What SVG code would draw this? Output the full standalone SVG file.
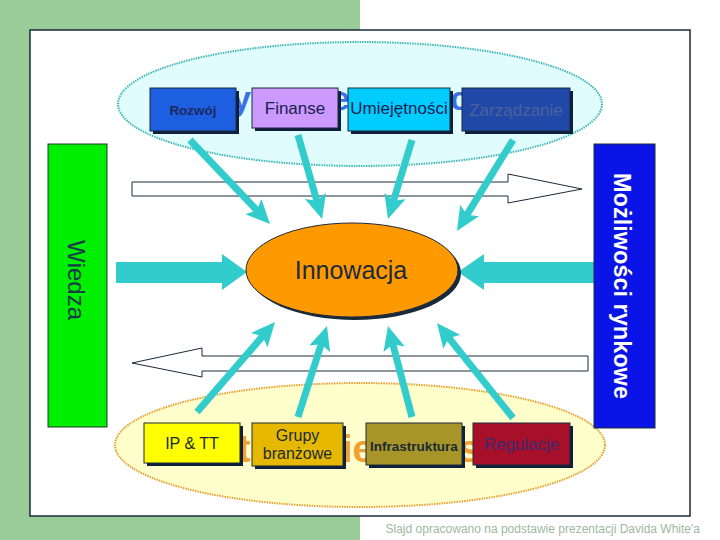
<svg xmlns="http://www.w3.org/2000/svg" width="720" height="540" viewBox="0 0 720 540">
<defs>
<style>
text{font-family:"Liberation Sans",Arial,sans-serif}
.box{stroke:#1a2a3a;stroke-width:1}
.sh{fill:#0d1f3c}
.lbl{text-anchor:middle}
.teal{stroke:#33cccc;stroke-width:7;fill:none;marker-end:url(#ah)}
.blk{fill:#ffffff;stroke:#1a2a3a;stroke-width:1}
.frag1{font-size:34px;font-weight:bold;fill:#3c6ee6}
.frag2{font-size:38px;font-weight:bold;fill:#f0a030}
</style>
<marker id="ah" markerUnits="userSpaceOnUse" markerWidth="26" markerHeight="22" viewBox="0 0 26 22" refX="6" refY="11" orient="auto">
<path d="M0,0 L24,11 L0,22 L5,11 Z" fill="#33cccc"/>
</marker>
</defs>
<rect x="0" y="0" width="720" height="540" fill="#ffffff"/>
<rect x="0" y="0" width="360" height="540" fill="#99cc99"/>
<rect x="30" y="30" width="660" height="486" fill="#ffffff" stroke="#1a2a3a" stroke-width="1.5"/>

<g id="top-ellipse"><ellipse cx="360" cy="104" rx="242" ry="62" fill="#e0fcfc" stroke="#40b8b8" stroke-width="2" stroke-dasharray="1.5,1"/></g>
<g id="bottom-ellipse"><ellipse cx="360" cy="445" rx="245" ry="62" fill="#ffffcc" stroke="#e8a030" stroke-width="2" stroke-dasharray="1.5,1"/></g>

<g id="fragments">
<text class="frag1" x="232" y="110">y</text>
<text class="frag1" x="331" y="110">e</text>
<text class="frag1" x="450" y="110">c</text>
<text class="frag2" x="238" y="462">t</text>
<text class="frag2" x="342" y="462">ie</text>
<text class="frag2" x="459" y="462">s</text>
</g>

<g id="connectors">
<polygon class="blk" points="132,182 508,182 508,174 582,189 508,203 508,196 132,196"/>
<polygon class="blk" points="588,356 202,356 202,348 132,363 202,377 202,371 588,371"/>
<polygon fill="#33cccc" points="116,262 222,262 222,254 247,272 222,290 222,283 116,283"/>
<polygon fill="#33cccc" points="599,262 484,262 484,254 458,272 484,290 484,283 599,283"/>
<line class="teal" x1="190" y1="140" x2="257.6" y2="211"/>
<line class="teal" x1="298" y1="135" x2="317.1" y2="201.7"/>
<line class="teal" x1="412" y1="140" x2="393.2" y2="201.8"/>
<line class="teal" x1="513" y1="140" x2="466.4" y2="215.7"/>
<line class="teal" x1="197" y1="412" x2="263.2" y2="335.6"/>
<line class="teal" x1="298" y1="417" x2="321.5" y2="343.2"/>
<line class="teal" x1="412" y1="417" x2="392.6" y2="343.4"/>
<line class="teal" x1="513" y1="418" x2="448.2" y2="337.1"/>
</g>

<g id="wiedza">
<rect x="48" y="144" width="59" height="283" fill="#00ee00" stroke="#1a3a2a" stroke-width="1"/>
<text transform="translate(68,280) rotate(90)" x="0" y="0" text-anchor="middle" font-size="24" fill="#1a3a4a">Wiedza</text>
</g>
<g id="mozliwosci">
<rect x="594" y="144" width="61" height="284" fill="#0a14e6" stroke="#1a2a3a" stroke-width="1"/>
<text transform="translate(614,286) rotate(90)" x="0" y="0" text-anchor="middle" font-size="23.5" font-weight="bold" fill="#ffffff">Możliwości rynkowe</text>
</g>

<g id="rozwoj">
<rect class="sh" x="153" y="91" width="86" height="43"/>
<rect class="box" x="150" y="88" width="86" height="43" fill="#1e5ee0"/>
<text class="lbl" x="193" y="115" style="font-size:13.5px;font-weight:bold;fill:#1a2a60">Rozwój</text>
</g>
<g id="finanse">
<rect class="sh" x="255" y="91" width="86" height="40"/>
<rect class="box" x="252" y="88" width="86" height="40" fill="#cc99ff"/>
<text class="lbl" x="295" y="114" style="font-size:17px;fill:#1a2050">Finanse</text>
</g>
<g id="umiejetnosci">
<rect class="sh" x="351" y="91" width="102" height="43"/>
<rect class="box" x="348" y="88" width="102" height="43" fill="#00ccff"/>
<text class="lbl" x="399" y="114" style="font-size:17px;fill:#1a2050">Umiejętności</text>
</g>
<g id="zarzadzanie">
<rect class="sh" x="465" y="91" width="108" height="43"/>
<rect class="box" x="462" y="88" width="108" height="43" fill="#2048a8"/>
<text class="lbl" x="516" y="116" style="font-size:17px;fill:#50609c">Zarządzanie</text>
</g>

<g id="ip-tt">
<rect class="sh" x="147" y="426" width="96" height="40"/>
<rect class="box" x="144" y="423" width="96" height="40" fill="#ffff00"/>
<text class="lbl" x="192" y="449" style="font-size:16px;fill:#1a2a30">IP &amp; TT</text>
</g>
<g id="grupy">
<rect class="sh" x="255" y="426" width="91" height="43"/>
<rect class="box" x="252" y="423" width="91" height="43" fill="#e6b800"/>
<text class="lbl" x="297.5" y="441" style="font-size:16px;fill:#1a2a30">Grupy</text>
<text class="lbl" x="297.5" y="459" style="font-size:16px;fill:#1a2a30">branżowe</text>
</g>
<g id="infrastruktura">
<rect class="sh" x="369" y="426" width="96" height="42"/>
<rect class="box" x="366" y="423" width="96" height="42" fill="#a8952a"/>
<text class="lbl" x="414" y="451" style="font-size:13.5px;font-weight:bold;fill:#1a2a30">Infrastruktura</text>
</g>
<g id="regulacje">
<rect class="sh" x="476" y="426" width="97" height="42"/>
<rect class="box" x="473" y="423" width="97" height="42" fill="#a8102a"/>
<text class="lbl" x="521.5" y="450" style="font-size:17px;fill:#3a2a70">Regulacje</text>
</g>

<g id="innowacja">
<ellipse cx="355" cy="273" rx="106" ry="47" fill="#1a2a3a"/>
<ellipse cx="352" cy="270" rx="106" ry="47" fill="#ff9900" stroke="#1a2a3a" stroke-width="1"/>
<text x="351" y="279" text-anchor="middle" font-size="25" fill="#1a2a3a">Innowacja</text>
</g>

<text x="700" y="533" text-anchor="end" font-size="12" fill="#a0b8a0">Slajd opracowano na podstawie prezentacji Davida White'a</text>
</svg>
